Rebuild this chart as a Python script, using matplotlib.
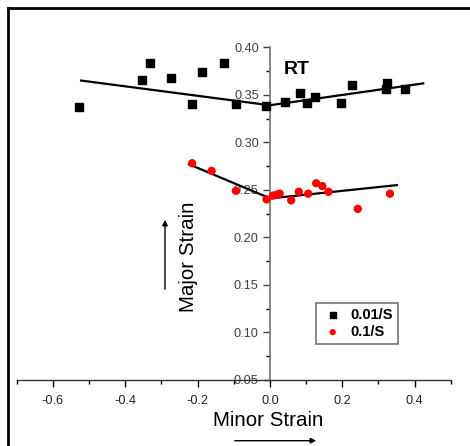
import numpy as np
import matplotlib.pyplot as plt
from matplotlib.lines import Line2D
from matplotlib.ticker import MultipleLocator

plt.rcParams['font.family'] = ['Liberation Sans', 'DejaVu Sans']

# 0.01/S data (black squares)
x_slow = [-0.528, -0.354, -0.332, -0.274, -0.216, -0.188, -0.127, -0.093, -0.010,
          0.041, 0.084, 0.103, 0.125, 0.196, 0.226, 0.320, 0.325, 0.373]
y_slow = [0.337, 0.366, 0.383, 0.368, 0.340, 0.374, 0.383, 0.340, 0.338,
          0.342, 0.352, 0.341, 0.348, 0.341, 0.360, 0.356, 0.362, 0.356]
fit_slow_x = [-0.522, 0.0, 0.424]
fit_slow_y = [0.365, 0.339, 0.362]

# 0.1/S data (red circles)
x_fast = [-0.215, -0.161, -0.094, -0.009, 0.009, 0.020, 0.027, 0.059, 0.080,
          0.106, 0.128, 0.145, 0.162, 0.243, 0.332]
y_fast = [0.278, 0.270, 0.249, 0.240, 0.244, 0.245, 0.246, 0.239, 0.248,
          0.246, 0.257, 0.254, 0.248, 0.230, 0.246]
fit_fast_x = [-0.224, 0.001, 0.351]
fit_fast_y = [0.277, 0.241, 0.255]

fig = plt.figure(figsize=(4.70, 4.46), dpi=100)
ax = fig.add_axes([0.0355, 0.148, 0.9235, 0.746])

ax.plot(fit_slow_x, fit_slow_y, color='black', lw=1.6, zorder=2)
ax.plot(fit_fast_x, fit_fast_y, color='black', lw=1.6, zorder=2)
ax.scatter(x_slow, y_slow, marker='s', s=30, color='black', zorder=3, label='0.01/S')
ax.scatter(x_fast, y_fast, marker='o', s=36, color='red', edgecolors='none', zorder=3, label='0.1/S')

ax.set_xlim(-0.7, 0.5)
ax.set_ylim(0.05, 0.40)

ax.spines['top'].set_visible(False)
ax.spines['right'].set_visible(False)
ax.spines['left'].set_position(('data', 0.0))
ax.spines['left'].set_color('#808080')
ax.spines['left'].set_linewidth(1.3)
ax.spines['bottom'].set_color('#333333')
ax.spines['bottom'].set_linewidth(1.0)

ax.xaxis.set_major_locator(MultipleLocator(0.2))
ax.xaxis.set_minor_locator(MultipleLocator(0.1))
ax.yaxis.set_major_locator(MultipleLocator(0.05))
ax.yaxis.set_minor_locator(MultipleLocator(0.025))
ax.set_xticks(np.arange(-0.6, 0.41, 0.2))
ax.set_xticklabels(['-0.6', '-0.4', '-0.2', '0.0', '0.2', '0.4'])
ax.set_yticks(np.arange(0.05, 0.401, 0.05))
ax.set_yticklabels(['%.2f' % v for v in np.arange(0.05, 0.401, 0.05)])
ax.tick_params(axis='both', which='major', direction='out', length=5, width=1,
               labelsize=9.2, labelcolor='#222222')
ax.tick_params(axis='both', which='minor', direction='out', length=3, width=1)
ax.tick_params(axis='y', colors='#404040', pad=3)
ax.tick_params(axis='x', pad=6)

ax.text(0.038, 0.377, 'RT', fontsize=14, fontweight='bold', ha='left', va='center')

leg = ax.legend(loc='upper left', bbox_to_anchor=(316 / 470, 1 - 303 / 446),
                bbox_transform=fig.transFigure, borderaxespad=0, frameon=True,
                fancybox=False, edgecolor='#555555', prop={'weight': 'bold', 'size': 10.5},
                handletextpad=0.4, borderpad=0.35, labelspacing=0.2, markerscale=0.75,
                handlelength=1.6)
leg.get_frame().set_linewidth(1.2)

fig.text(268 / 470, 1 - 421 / 446, 'Minor Strain', fontsize=14.8, ha='center', va='center')
fig.text(189 / 470, 1 - 257 / 446, 'Major Strain', fontsize=14.8, ha='center', va='center',
         rotation=90)

# arrows beside the axis titles
fig.add_artist(plt.Annotation('', xy=(319 / 470, 1 - 440.7 / 446), xytext=(232 / 470, 1 - 440.7 / 446),
                              xycoords='figure fraction',
                              arrowprops=dict(arrowstyle='-|>', color='black', lw=1,
                                              mutation_scale=8)))
fig.add_artist(plt.Annotation('', xy=(165 / 470, 1 - 217 / 446), xytext=(165 / 470, 1 - 292 / 446),
                              xycoords='figure fraction',
                              arrowprops=dict(arrowstyle='-|>', color='black', lw=1,
                                              mutation_scale=8)))

# outer frame (left and top)
fig.add_artist(Line2D([8 / 470, 8 / 470], [0, 1 - 8 / 446], color='black', lw=2,
                      transform=fig.transFigure))
fig.add_artist(Line2D([8 / 470, 1], [1 - 8 / 446, 1 - 8 / 446], color='black', lw=2,
                      transform=fig.transFigure))

fig.savefig('out.png', dpi=100)
